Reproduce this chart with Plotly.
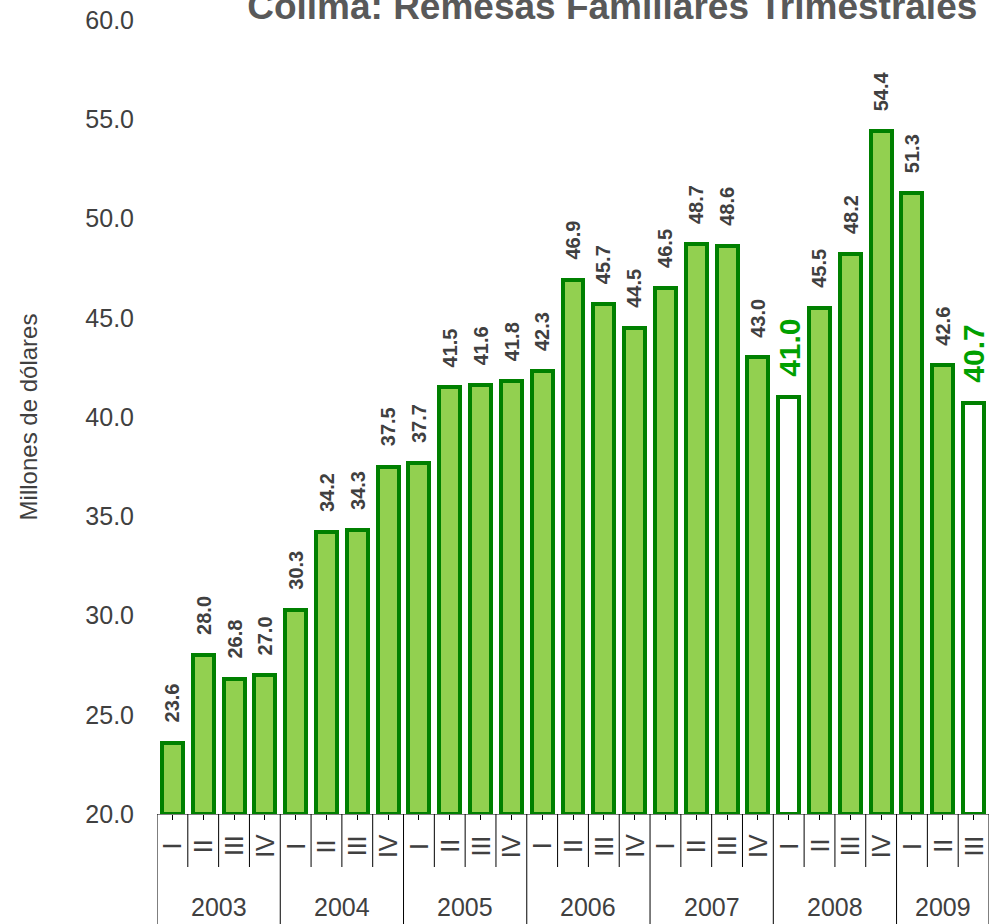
import plotly.graph_objects as go

# ---- data ----
years = ["2003", "2004", "2005", "2006", "2007", "2008", "2009"]
quarters_per_year = [4, 4, 4, 4, 4, 4, 3]
quarter_labels = ["I", "II", "III", "IV"]
values = [23.6, 28.0, 26.8, 27.0,
          30.3, 34.2, 34.3, 37.5,
          37.7, 41.5, 41.6, 41.8,
          42.3, 46.9, 45.7, 44.5,
          46.5, 48.7, 48.6, 43.0,
          41.0, 45.5, 48.2, 54.4,
          51.3, 42.6, 40.7]
highlight_idx = [20, 26]
y_ticks = [20, 25, 30, 35, 40, 45, 50, 55, 60]

FONT = "Arial, Liberation Sans, sans-serif"
TXT = "#404040"
GREEN_FILL = "#92D050"
GREEN_LINE = "#008000"
GREEN_TXT = "#00A000"
BASE = 20

n = len(values)
xs = list(range(n))
fills = ["white" if i in highlight_idx else GREEN_FILL for i in xs]

fig = go.Figure()
fig.add_trace(go.Bar(
    x=xs, y=[v - BASE for v in values], base=BASE,
    width=0.68,
    marker=dict(color=fills, line=dict(color=GREEN_LINE, width=4)),
    hoverinfo="skip",
))

annotations = []
shapes = []
# bar value labels
for i, v in enumerate(values):
    hl = i in highlight_idx
    annotations.append(dict(
        x=i, y=v, xref="x", yref="y", text=f"{v:.1f}", showarrow=False,
        textangle=-90, yanchor="bottom", xanchor="center", yshift=18,
        font=dict(family=FONT, size=30 if hl else 20,
                  color=GREEN_TXT if hl else TXT, weight="bold"),
    ))

# category labels (quarters) and year labels with dividers
axis_h = 794.0
q_y = -(846 - 814) / axis_h
yr_y = -(907 - 814) / axis_h
q_div = -(867 - 814) / axis_h
yr_div = -(924 - 814) / axis_h
start = 0
for yr, cnt in zip(years, quarters_per_year):
    for q in range(cnt):
        i = start + q
        annotations.append(dict(
            x=i, y=q_y, xref="x", yref="paper", text=quarter_labels[q],
            showarrow=False, textangle=-90, yanchor="middle", xanchor="center",
            font=dict(family=FONT, size=25, color=TXT),
        ))
        if q > 0:
            shapes.append(dict(type="line", xref="x", yref="paper",
                               x0=i - 0.5, x1=i - 0.5, y0=0, y1=q_div,
                               line=dict(color="black", width=1)))
    annotations.append(dict(
        x=start + (cnt - 1) / 2, y=yr_y, xref="x", yref="paper", text=yr,
        showarrow=False, yanchor="middle", xanchor="center",
        font=dict(family=FONT, size=25, color=TXT),
    ))
    shapes.append(dict(type="line", xref="x", yref="paper",
                       x0=start - 0.5, x1=start - 0.5, y0=0, y1=yr_div,
                       line=dict(color="black", width=1)))
    start += cnt
shapes.append(dict(type="line", xref="x", yref="paper",
                   x0=start - 0.5, x1=start - 0.5, y0=0, y1=yr_div,
                   line=dict(color="black", width=1)))

fig.update_layout(
    width=1007, height=924,
    margin=dict(l=157, r=18, t=20, b=110),
    paper_bgcolor="white", plot_bgcolor="white",
    showlegend=False,
    bargap=0,
    title=dict(text="<b>Colima: Remesas Familiares Trimestrales</b>",
               x=0.608, xanchor="center", y=0.9935, yanchor="middle",
               font=dict(family=FONT, size=37, color="#595959")),
    annotations=annotations,
    shapes=shapes,
    xaxis=dict(range=[-0.5, n - 0.5], tickvals=xs, ticks="outside",
               ticklen=5, tickcolor="black", showticklabels=False,
               showline=True, linecolor="#808080", linewidth=1,
               showgrid=False, zeroline=False, fixedrange=True,
               automargin=False),
    yaxis=dict(range=[20, 60], tickvals=y_ticks, tickformat=".1f",
               showgrid=False, zeroline=False, showline=False,
               ticklabelstandoff=22, automargin=False, fixedrange=True,
               tickfont=dict(family=FONT, size=25, color=TXT),
               title=dict(text="Millones de dólares", standoff=40,
                          font=dict(family=FONT, size=24, color=TXT))),
)

fig.write_html("out.html",
               config={"displayModeBar": False},
               post_script="document.body.style.margin='0';"
                           "document.body.style.overflow='hidden';")
